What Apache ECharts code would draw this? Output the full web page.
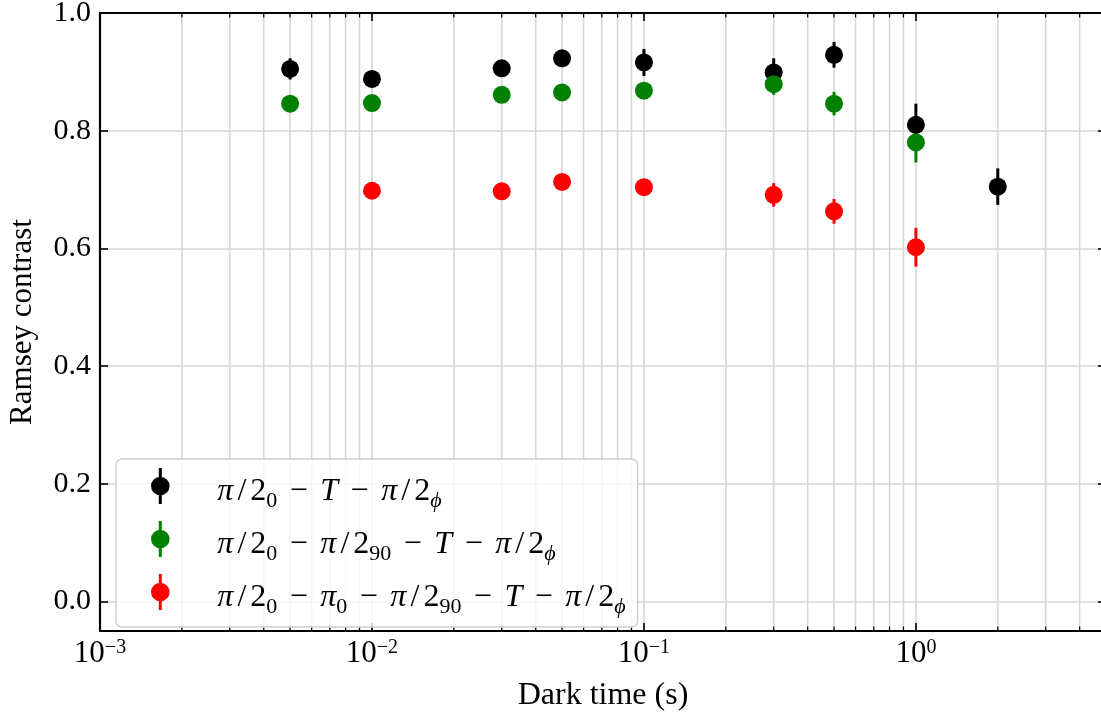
<!DOCTYPE html>
<html><head><meta charset="utf-8">
<script src="https://cdn.jsdelivr.net/npm/echarts@6/dist/echarts.min.js"></script>
<style>html,body{margin:0;padding:0;background:#fff}#c{width:1101px;height:713px}</style>
</head><body><div id="c"></div>
<script>
// ---- data ----
const blackX   = [0.005, 0.01, 0.03, 0.05, 0.1, 0.3, 0.5, 1, 2];
const blackY   = [0.905, 0.888, 0.906, 0.923, 0.916, 0.899, 0.929, 0.810, 0.705];
const blackErr = [0.018, 0.012, 0.012, 0.012, 0.023, 0.024, 0.022, 0.036, 0.031];
const greenX   = [0.005, 0.01, 0.03, 0.05, 0.1, 0.3, 0.5, 1];
const greenY   = [0.846, 0.847, 0.861, 0.865, 0.868, 0.879, 0.846, 0.780];
const greenErr = [0.010, 0.010, 0.010, 0.010, 0.010, 0.018, 0.020, 0.034];
const redX     = [0.01, 0.03, 0.05, 0.1, 0.3, 0.5, 1];
const redY     = [0.698, 0.697, 0.713, 0.704, 0.691, 0.663, 0.602];
const redErr   = [0.010, 0.010, 0.010, 0.010, 0.020, 0.021, 0.033];
const yTicks   = [0.0, 0.2, 0.4, 0.6, 0.8, 1.0];
const minorX   = [0.002,0.003,0.004,0.005,0.006,0.007,0.008,0.009,
                  0.02,0.03,0.04,0.05,0.06,0.07,0.08,0.09,
                  0.2,0.3,0.4,0.5,0.6,0.7,0.8,0.9,
                  2,3,4];
const seriesNames = ['black', 'green', 'red'];
const legendLabels = {
  black: '{sp| }{i|π}{sl|/}{n|2}{s|0}{op|−}{i|T}{op|−}{i|π}{sl|/}{n|2}{si|ϕ}',
  green: '{sp| }{i|π}{sl|/}{n|2}{s|0}{op|−}{i|π}{sl|/}{n|2}{s|90}{op|−}{i|T}{op|−}{i|π}{sl|/}{n|2}{si|ϕ}',
  red:   '{sp| }{i|π}{sl|/}{n|2}{s|0}{op|−}{i|π}{s|0}{op|−}{i|π}{sl|/}{n|2}{s|90}{op|−}{i|T}{op|−}{i|π}{sl|/}{n|2}{si|ϕ}'
};
const X_MIN = 0.001, X_MAX = 5, Y_MIN = -0.05, Y_MAX = 1.0;

const FF = "'Liberation Serif','DejaVu Serif',serif";
const GRID_C = '#d6d6d6';
const ICON = 'path://M8.5,0L11.5,0L11.5,36L8.5,36Z M0.7,18A9.3,9.3 0 1,1 19.3,18A9.3,9.3 0 1,1 0.7,18Z';

function pts(xs, ys) { return xs.map((x, i) => [x, ys[i]]); }
function errs(xs, ys, es) { return xs.map((x, i) => [x, ys[i] - es[i], ys[i] + es[i]]); }
function errRender(color) {
  return function (params, api) {
    const x = api.value(0);
    const p1 = api.coord([x, api.value(1)]), p2 = api.coord([x, api.value(2)]);
    return { type: 'line', shape: { x1: p1[0], y1: p1[1], x2: p2[0], y2: p2[1] },
             style: { stroke: color, lineWidth: 3 } };
  };
}
function logFmt(v) {
  const e = Math.log10(v), r = Math.round(e);
  if (Math.abs(e - r) > 1e-6) return '';
  return '{b|10}{p|' + (r < 0 ? '−' + (-r) : r) + '}';
}
function yFmt(v) {
  return yTicks.some(t => Math.abs(t - v) < 1e-9) ? v.toFixed(1) : '';
}

const chart = echarts.init(document.getElementById('c'));
const axisLineStyle = { color: '#000', width: 2.2 };
const majorTick = { inside: true, length: 8, lineStyle: { color: '#000', width: 1.6 } };

const colors = { black: '#000000', green: '#008000', red: '#ff0000' };
const sets = {
  black: [blackX, blackY, blackErr],
  green: [greenX, greenY, greenErr],
  red: [redX, redY, redErr]
};
const series = [{
  type: 'custom', z: 1, silent: true,
  data: minorX.map(v => [v, 0]),
  encode: { x: 0, y: 1 },
  renderItem: function (params, api) {
    const x = api.value(0);
    const b = api.coord([x, Y_MIN]), t = api.coord([x, Y_MAX]);
    return { type: 'group', children: [
      { type: 'line', shape: { x1: b[0], y1: b[1] - 1, x2: b[0], y2: t[1] + 1 }, style: { stroke: GRID_C, lineWidth: 1.6 } },
      { type: 'line', shape: { x1: b[0], y1: b[1], x2: b[0], y2: b[1] - 4.5 }, style: { stroke: '#000', lineWidth: 1.2 } },
      { type: 'line', shape: { x1: t[0], y1: t[1], x2: t[0], y2: t[1] + 4.5 }, style: { stroke: '#000', lineWidth: 1.2 } }
    ] };
  }
}];
seriesNames.forEach(n => {
  const [xs, ys, es] = sets[n];
  series.push({
    type: 'custom', name: n + '_err', z: 2, silent: true,
    data: errs(xs, ys, es), encode: { x: 0, y: [1, 2] },
    renderItem: errRender(colors[n])
  });
  series.push({
    type: 'scatter', name: n, z: 2, symbol: 'circle', symbolSize: 18,
    itemStyle: { color: colors[n], opacity: 1 },
    data: pts(xs, ys)
  });
});

chart.setOption({
  animation: false,
  grid: { left: 100, right: -5, top: 13, bottom: 82, containLabel: false, outerBoundsMode: 'none' },
  xAxis: [{
    type: 'log', logBase: 10, min: X_MIN, max: X_MAX, position: 'bottom',
    axisLine: { onZero: false, lineStyle: axisLineStyle },
    axisTick: majorTick,
    splitLine: { show: true, lineStyle: { color: GRID_C, width: 1.6 } },
    axisLabel: {
      margin: 7, formatter: logFmt, color: '#000',
      rich: {
        b: { fontFamily: FF, fontSize: 31, color: '#000' },
        p: { fontFamily: FF, fontSize: 20, color: '#000', padding: [0, 0, 11, 0] }
      }
    },
    name: 'Dark time (s)', nameLocation: 'middle', nameGap: 49,
    nameTextStyle: { fontFamily: FF, fontSize: 32, color: '#000' }
  }, {
    type: 'log', logBase: 10, min: X_MIN, max: X_MAX, position: 'top',
    axisLine: { onZero: false, lineStyle: axisLineStyle }, axisTick: majorTick,
    axisLabel: { show: false }, splitLine: { show: false }
  }],
  yAxis: [{
    type: 'value', min: Y_MIN, max: Y_MAX, splitNumber: 5, position: 'left',
    axisLine: { show: true, onZero: false, lineStyle: axisLineStyle },
    axisTick: { show: true, inside: true, length: 8, lineStyle: { color: '#000', width: 1.6 } },
    splitLine: { show: true, lineStyle: { color: GRID_C, width: 1.6 } },
    axisLabel: { margin: 9, formatter: yFmt, fontFamily: FF, fontSize: 30, color: '#000' },
    name: 'Ramsey contrast', nameLocation: 'middle', nameGap: 62,
    nameTextStyle: { fontFamily: FF, fontSize: 31, color: '#000' }
  }, {
    type: 'value', min: Y_MIN, max: Y_MAX, splitNumber: 5, position: 'right',
    axisLine: { show: true, onZero: false, lineStyle: axisLineStyle },
    axisTick: { show: true, inside: true, length: 8, lineStyle: { color: '#000', width: 1.6 } },
    axisLabel: { show: false }, splitLine: { show: false }
  }],
  legend: {
    left: 116, top: 459, orient: 'vertical', selectedMode: false,
    itemWidth: 20, itemHeight: 36, itemGap: 9,
    padding: [9, 12, 9, 35],
    backgroundColor: 'rgba(255,255,255,0.8)', borderColor: '#d0d0d0', borderWidth: 1.5, borderRadius: 6,
    data: seriesNames.map(n => ({ name: n, icon: ICON })),
    formatter: name => legendLabels[name],
    textStyle: {
      fontFamily: FF, fontSize: 32, color: '#000',
      rich: {
        sp: { width: 42, fontSize: 32 },
        n: { fontFamily: FF, fontSize: 32, color: '#000', padding: [12, 0, 0, 0] },
        i: { fontFamily: FF, fontSize: 32, fontStyle: 'italic', color: '#000', padding: [12, 0, 0, 0] },
        sl: { fontFamily: FF, fontSize: 32, color: '#000', width: 17, align: 'center', padding: [12, 0, 0, 0] },
        op: { fontFamily: FF, fontSize: 32, color: '#000', width: 43, align: 'center', padding: [12, 0, 0, 0] },
        s: { fontFamily: FF, fontSize: 22, color: '#000', padding: [30, 0, 0, 0] },
        si: { fontFamily: FF, fontSize: 22, fontStyle: 'italic', color: '#000', padding: [30, 0, 0, 0] }
      }
    }
  },
  series: series
});
</script></body></html>
